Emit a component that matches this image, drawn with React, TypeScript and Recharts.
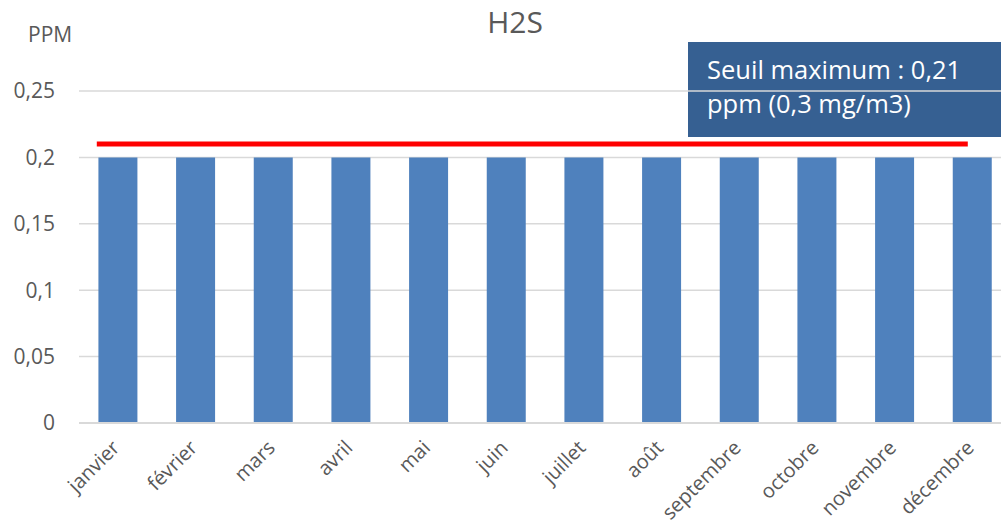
import React from 'react';
import {
  BarChart,
  Bar,
  XAxis,
  YAxis,
  CartesianGrid,
  ReferenceLine,
} from 'recharts';

const MONTHS = [
  'janvier', 'février', 'mars', 'avril', 'mai', 'juin',
  'juillet', 'août', 'septembre', 'octobre', 'novembre', 'décembre',
];
const H2S_VALUES = [0.2, 0.2, 0.2, 0.2, 0.2, 0.2, 0.2, 0.2, 0.2, 0.2, 0.2, 0.2];
const Y_TICKS = [0, 0.05, 0.1, 0.15, 0.2, 0.25];

// seuil maximum : trait tracé sur un axe numérique caché (0 = bord gauche, 11 = bord droit)
const THRESHOLD = 0.21;
const THRESHOLD_FROM = 0.21;
const THRESHOLD_TO = 10.49;

const TEXT = '#595959';
const GRID = '#d9d9d9';
const FONT = '"Open Sans", sans-serif';

const data = MONTHS.map((month, i) => ({ month, value: H2S_VALUES[i] }));

// eslint-disable-next-line @typescript-eslint/no-explicit-any
function MonthTick({ x, y, payload }: any) {
  return (
    <g transform={`translate(${x + 3},${y + 18})`}>
      <text
        textAnchor="end"
        transform="rotate(-45)"
        fontSize={20}
        fill={TEXT}
        fontFamily={FONT}
      >
        {payload.value}
      </text>
    </g>
  );
}

export default function App() {
  return (
    <div
      style={{
        position: 'absolute',
        left: 0,
        top: 0,
        width: 1001,
        height: 529,
        overflow: 'hidden',
        background: '#fff',
        fontFamily: FONT,
      }}
    >
      <svg width={1001} height={529} style={{ position: 'absolute', left: 0, top: 0 }}>
        <rect x={688} y={42} width={320} height={95} fill="#366092" />
        <text x={707} y={79} fontSize={25.5} fill="#fff" fontFamily={FONT}>
          Seuil maximum : 0,21
        </text>
        <text x={707} y={113} fontSize={25.5} fill="#fff" fontFamily={FONT}>
          ppm (0,3 mg/m3)
        </text>
        <text x={515} y={33} fontSize={30} fill={TEXT} textAnchor="middle" fontFamily={FONT}>
          H2S
        </text>
        <text x={28} y={42} fontSize={21} fill={TEXT} fontFamily={FONT}>
          PPM
        </text>
      </svg>
      <div style={{ position: 'absolute', left: 0, top: 0 }}>
        <BarChart
          width={1011}
          height={529}
          data={data}
          margin={{ top: 91, right: 0, bottom: 76, left: 0 }}
          barCategoryGap="25%"
        >
          <CartesianGrid vertical={false} stroke={GRID} strokeWidth={1.5} />
          <XAxis
            dataKey="month"
            height={30}
            interval={0}
            tickLine={false}
            axisLine={{ stroke: GRID, strokeWidth: 2 }}
            tick={<MonthTick />}
          />
          <XAxis
            xAxisId="line"
            type="number"
            domain={[0, 11]}
            allowDataOverflow
            hide
          />
          <YAxis
            width={79}
            domain={[0, 0.25]}
            ticks={Y_TICKS}
            axisLine={false}
            tickLine={false}
            tickMargin={18}
            tickFormatter={(v: number) => String(v).replace('.', ',')}
            tick={{ fontSize: 21, fill: TEXT, fontFamily: FONT }}
          />
          <Bar dataKey="value" fill="#4f81bd" isAnimationActive={false} />
          <ReferenceLine
            xAxisId="line"
            segment={[
              { x: THRESHOLD_FROM, y: THRESHOLD },
              { x: THRESHOLD_TO, y: THRESHOLD },
            ]}
            stroke="#ff0000"
            strokeWidth={5}
            ifOverflow="visible"
          />
        </BarChart>
      </div>
    </div>
  );
}
